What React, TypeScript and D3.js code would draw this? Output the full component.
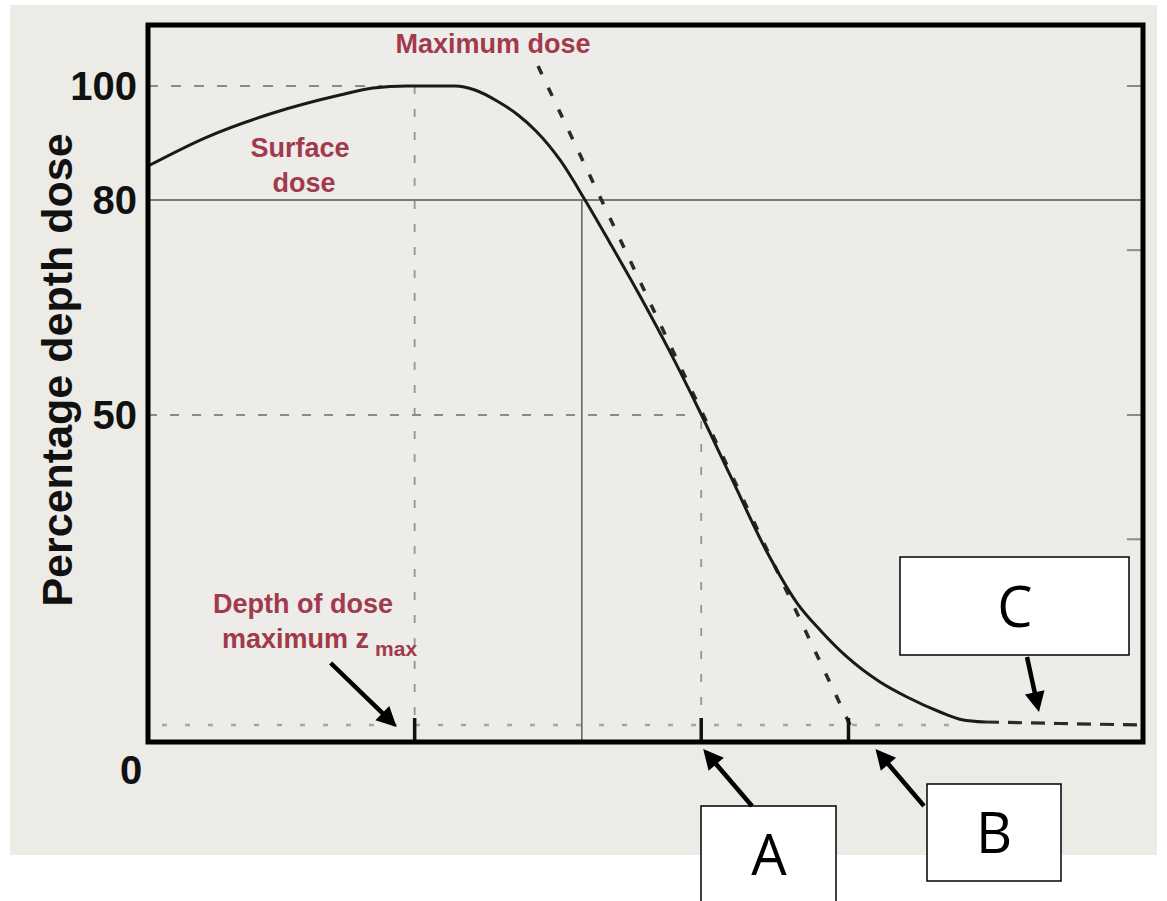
import React from 'react';
import * as d3 from 'd3';

// ---- data ----
const depth = [0, 0.593, 1.256, 1.93, 2.261, 2.603, 3.085, 3.286, 3.508, 3.719, 3.899, 4.141, 4.392, 4.643, 4.945, 5.246, 5.548, 5.849, 6.221, 6.523, 6.754, 7.025, 7.357, 7.628, 7.96, 8.181, 8.412];
const pdd = [85.96, 91.05, 95.26, 98.42, 99.65, 100, 100, 99.3, 97.37, 94.91, 92.11, 87.02, 80.0, 74.0, 66.6, 58.8, 50.42, 40.83, 29.05, 21.25, 17.13, 13.0, 9.17, 6.88, 4.59, 3.41, 3.06];
const tailDepth = [8.412, 9.17, 10.0];
const tailPdd = [3.06, 2.83, 2.6];
const yTickValues = [100, 80, 50];
const yTickLabels = ['100', '80', '50'];
const rightTicks = [100, 73, 50, 31];
const zmax = 2.68;
const r80 = 4.36;
const r50 = 5.56;
const rp = 7.04;
const tailLevel = 2.6;
const tangentDepth = [3.92, 7.09];
const tangentPdd = [103.5, 1.5];
const depthDomain = [0, 10];
const yDomain = [0, 50, 80, 100];
const yTop = 110.7;

const RED = '#a03a4c';
const BOLD = "'Liberation Sans', Arial, sans-serif";
const BOXFONT = "'Open Sans', 'Liberation Sans', sans-serif";

function Arrow({ x1, y1, x2, y2 }: { x1: number; y1: number; x2: number; y2: number }) {
  const dx = x2 - x1, dy = y2 - y1;
  const len = Math.sqrt(dx * dx + dy * dy);
  const ux = dx / len, uy = dy / len;
  const hl = 20, hw = 10;
  const bx = x2 - ux * hl, by = y2 - uy * hl;
  const pts = [
    [x2, y2],
    [bx - uy * hw, by + ux * hw],
    [bx + uy * hw, by - ux * hw],
  ];
  return (
    <g>
      <line x1={x1} y1={y1} x2={bx + ux * 2} y2={by + uy * 2} stroke="#000" strokeWidth={4.5} />
      <polygon points={pts.map((p) => p.join(',')).join(' ')} fill="#000" />
    </g>
  );
}

export default function App() {
  const W = 1167, H = 901;
  const x = d3.scaleLinear().domain(depthDomain).range([148, 1143]);
  const y = d3.scaleLinear().domain(yDomain).range([742, 415, 200, 86]);

  const pts = depth.map((d, i) => [d, pdd[i]] as [number, number]);
  const tail = tailDepth.map((d, i) => [d, tailPdd[i]] as [number, number]);
  const line = d3
    .line<[number, number]>()
    .x((d) => x(d[0]))
    .y((d) => y(d[1]))
    .curve(d3.curveMonotoneX);
  const straight = d3
    .line<[number, number]>()
    .x((d) => x(d[0]))
    .y((d) => y(d[1]));

  const x0 = x(depthDomain[0]);
  const x1 = x(depthDomain[1]);
  const yBot = y(0);
  const yT = y(yTop);

  const curveAt100 = 2.36;

  return (
    <svg width={W} height={H} style={{ position: 'absolute', left: 0, top: 0 }}>
      <rect x={0} y={0} width={W} height={H} fill="#ffffff" />
      <rect x={10} y={5} width={1147} height={850} fill="#ecebe6" />
      <rect x={x0} y={yT} width={x1 - x0} height={yBot - yT} fill="#eeece8" />

      {/* reference lines */}
      <line x1={x0} x2={x(curveAt100)} y1={y(100)} y2={y(100)} stroke="#8a8a8a" strokeWidth={1.8} strokeDasharray="10,13" />
      <line x1={x(zmax)} x2={x(zmax)} y1={y(100)} y2={yBot} stroke="#959595" strokeWidth={1.8} strokeDasharray="8,15" />
      <line x1={x0} x2={x1} y1={y(80)} y2={y(80)} stroke="#555" strokeWidth={1.6} />
      <line x1={x(r80)} x2={x(r80)} y1={y(80)} y2={yBot} stroke="#666" strokeWidth={1.6} />
      <line x1={x0} x2={x(r50) - 6} y1={y(50)} y2={y(50)} stroke="#8a8a8a" strokeWidth={1.8} strokeDasharray="9,13" />
      <line x1={x(r50)} x2={x(r50)} y1={y(50) + 6} y2={yBot} stroke="#959595" strokeWidth={1.8} strokeDasharray="8,15" />
      <line x1={x0 + 14} x2={x(8.18)} y1={y(tailLevel)} y2={y(tailLevel)} stroke="#a5a5a5" strokeWidth={2.5} strokeDasharray="5,18" />

      {/* right-side small ticks */}
      {rightTicks.map((v) => (
        <line key={v} x1={x1 - 16} x2={x1} y1={y(v)} y2={y(v)} stroke="#8a8a8a" strokeWidth={2} />
      ))}

      {/* tangent */}
      <path
        d={straight(tangentDepth.map((d, i) => [d, tangentPdd[i]] as [number, number])) || ''}
        fill="none"
        stroke="#2a2a2a"
        strokeWidth={3.5}
        strokeDasharray="9,15"
      />

      {/* depth dose curve */}
      <path d={line(pts) || ''} fill="none" stroke="#1a1a1a" strokeWidth={3} />
      <path d={line(tail) || ''} fill="none" stroke="#2a2a2a" strokeWidth={3.2} strokeDasharray="14,9" />

      {/* bottom ticks */}
      {[zmax, r50, rp].map((v) => (
        <line key={v} x1={x(v)} x2={x(v)} y1={yBot - 24} y2={yBot} stroke="#111" strokeWidth={3.5} />
      ))}

      {/* frame */}
      <rect x={x0} y={yT} width={x1 - x0} height={yBot - yT} fill="none" stroke="#000" strokeWidth={5} />

      {/* axis labels */}
      {yTickValues.map((v, i) => (
        <text key={v} x={137} y={y(v) + 14} textAnchor="end" fontFamily={BOLD} fontWeight="bold" fontSize={40} fill="#111">
          {yTickLabels[i]}
        </text>
      ))}
      <text x={131} y={784} textAnchor="middle" fontFamily={BOLD} fontWeight="bold" fontSize={40} fill="#111">0</text>
      <text
        transform={`translate(72,${370}) rotate(-90)`}
        textAnchor="middle"
        fontFamily={BOLD}
        fontWeight="bold"
        fontSize={43}
        fill="#111"
      >
        Percentage depth dose
      </text>

      {/* red annotations */}
      <g fontFamily={BOLD} fontWeight="bold" fontSize={27} fill={RED} textAnchor="middle">
        <text x={493} y={53}>Maximum dose</text>
        <text x={300} y={157}>Surface</text>
        <text x={304} y={192}>dose</text>
        <text x={303} y={613}>Depth of dose</text>
        <text x={222} y={648} textAnchor="start">
          maximum z<tspan fontSize={21} dx={6} dy={8}>max</tspan>
        </text>
      </g>

      {/* boxes */}
      <rect x={900} y={557} width={229} height={98} fill="#fff" stroke="#000" strokeWidth={1.5} />
      <rect x={927} y={784} width={134} height={97} fill="#fff" stroke="#000" strokeWidth={1.5} />
      <rect x={701} y={806} width={135} height={110} fill="#fff" stroke="#000" strokeWidth={1.5} />
      <g fontFamily={BOXFONT} fontSize={56} fill="#000" textAnchor="middle">
        <text x={1015} y={627}>C</text>
        <text x={994} y={853}>B</text>
        <text x={769} y={875}>A</text>
      </g>

      {/* arrows */}
      <Arrow x1={x(zmax) - 84} y1={y(tailLevel) - 62} x2={x(zmax) - 18} y2={y(tailLevel) + 2} />
      <Arrow x1={752} y1={806} x2={x(r50) + 2} y2={yBot + 7} />
      <Arrow x1={924} y1={806} x2={x(rp) + 27} y2={yBot + 7} />
      <Arrow x1={1027} y1={657} x2={1039} y2={712} />
    </svg>
  );
}
